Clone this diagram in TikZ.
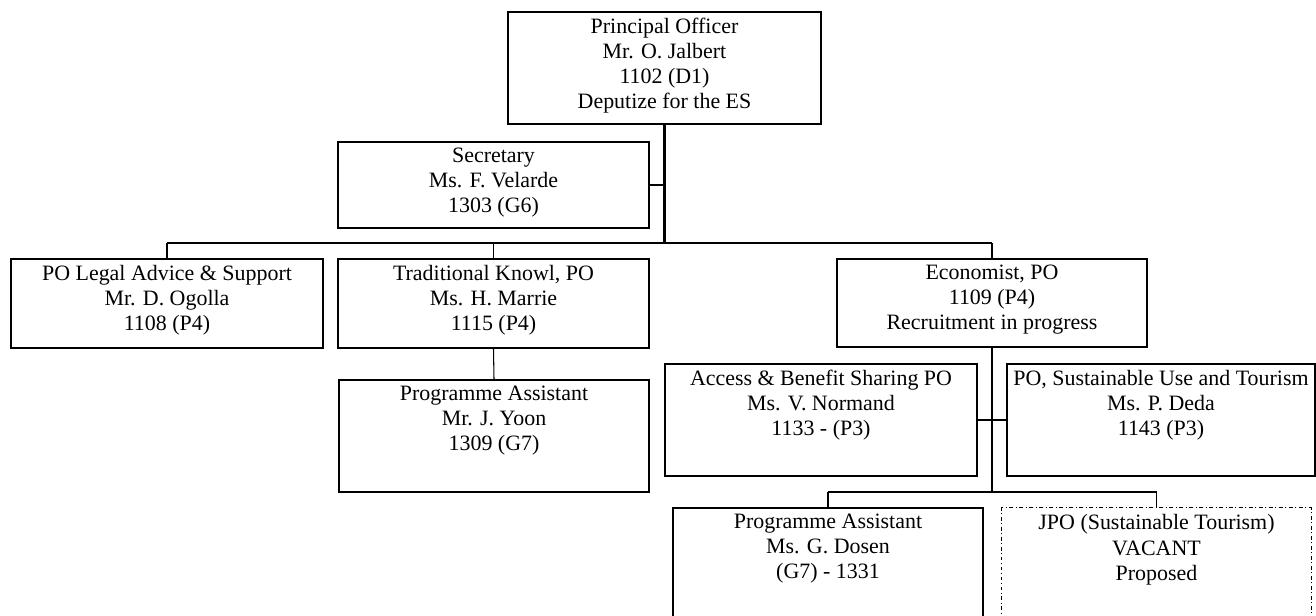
\documentclass[tikz,border=0pt]{standalone}
\usepackage{fontspec}
\setmainfont{Liberation Serif}
\usetikzlibrary{positioning}

\begin{document}
\begin{tikzpicture}[x=0.025cm, y=-0.025cm,
	box/.style={draw, line width=1.4pt, inner sep=0pt, minimum width=7.8cm, minimum height=2.8cm},
	vacant/.style={draw, line width=0.7pt, dash pattern=on 2.8pt off 1.8pt on 0.7pt off 1.8pt, inner sep=0pt, minimum width=7.725cm, minimum height=2.8cm},
	txt/.style={inner sep=0pt, align=center, font=\fontsize{15.6}{17.8}\selectfont},
	trunk/.style={line width=1.6pt},
	link/.style={line width=0.75pt}]

			\useasboundingbox (0,0) rectangle (1316,616);
			\clip (0,0) rectangle (1316,616);

			% Top
			\node[box, minimum width=7.825cm] (po) at (664.5,68) {};
			\node[txt, below=0.175cm of po.north] (po-t) {Principal Officer\\Mr. O. Jalbert\\1102 (D1)\\Deputize for the ES};
			\node[box, minimum width=7.775cm, minimum height=2.15cm] (sec) at (493.5,185) {};
			\node[txt, below=0.175cm of sec.north] (sec-t) {Secretary\\Ms. F. Velarde\\1303 (G6)};

			% Second row
			\node[box, minimum height=2.225cm] (legal) at (167,303.5) {};
			\node[txt, below=0.175cm of legal.north] (legal-t) {PO Legal Advice \& Support\\Mr. D. Ogolla\\1108 (P4)};
			\node[box, minimum width=7.775cm, minimum height=2.225cm] (trad) at (493.5,303.5) {};
			\node[txt, below=0.175cm of trad.north] (trad-t) {Traditional Knowl, PO\\Ms. H. Marrie\\1115 (P4)};
			\node[box, minimum width=7.75cm, minimum height=2.2cm] (econ) at (992,303) {};
			\node[txt, below=0.175cm of econ.north] (econ-t) {Economist, PO\\1109 (P4)\\Recruitment in progress};

			% Third row
			\node[box, minimum width=7.75cm] (yoon) at (494,436) {};
			\node[txt, below=0.175cm of yoon.north] (yoon-t) {Programme Assistant\\Mr. J. Yoon\\1309 (G7)};
			\node[box] (abs) at (821,420) {};
			\node[txt, below=0.175cm of abs.north] (abs-t) {Access \& Benefit Sharing PO\\Ms. V. Normand\\1133 - (P3)};
			\node[box, minimum width=7.7cm] (sust) at (1161,420) {};
			\node[txt, below=0.175cm of sust.north] (sust-t) {PO, Sustainable Use and Tourism\\Ms. P. Deda\\1143 (P3)};

			% Bottom row
			\node[box, minimum width=7.75cm] (dosen) at (828,564) {};
			\node[txt, below=0.175cm of dosen.north] (dosen-t) {Programme Assistant\\Ms. G. Dosen\\(G7) - 1331};
			\node[vacant] (jpo) at (1156.5,564) {};
			\node[txt, below=0.175cm of jpo.north] (jpo-t) {JPO (Sustainable Tourism)\\VACANT\\Proposed};

			% Junctions
			\coordinate (bus) at (664,243);
			\coordinate (bus2) at (992,492);

			% Lines from the top
			\draw[trunk] (po.south) -- (po.south |- bus);
			\draw[trunk] (sec.east) -- (sec.east -| po.south);
			\draw[trunk] (legal.north |- bus) -- (econ.north |- bus);
			\draw[link] (legal.north) -- (legal.north |- bus);
			\draw[link] (trad.north) -- (trad.north |- bus);
			\draw[link] (econ.north) -- (econ.north |- bus);
			\draw[link] (trad.south) -- (yoon.north);
			% Lines from the economist
			\draw[trunk] (econ.south) -- (bus2);
			\draw[link] (abs.east) -- (sust.west);
			\draw[trunk] (dosen.north |- bus2) -- (jpo.north |- bus2);
			\draw[link] (dosen.north) -- (dosen.north |- bus2);
			\draw[link] (jpo.north) -- (jpo.north |- bus2);
		\end{tikzpicture}
\end{document}
